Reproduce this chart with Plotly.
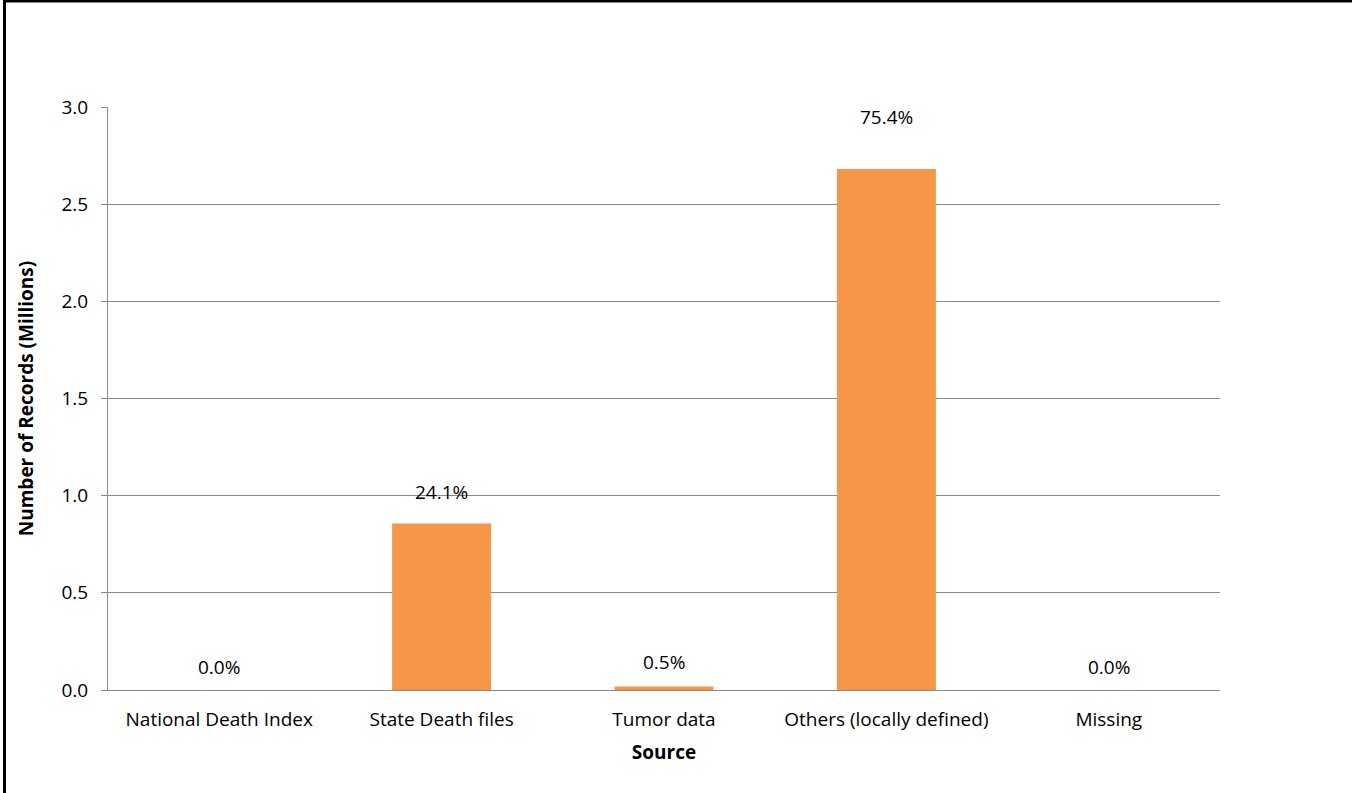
import plotly.graph_objects as go

categories = ["National Death Index", "State Death files", "Tumor data",
              "Others (locally defined)", "Missing"]
records_millions = [0.0, 0.857, 0.0178, 2.681, 0.0]
pct_labels = ["0.0%", "24.1%", "0.5%", "75.4%", "0.0%"]
y_ticks = [0.0, 0.5, 1.0, 1.5, 2.0, 2.5, 3.0]

label_shift = [23, 31, 25, 52, 23]  # pixel offsets of labels above bars

FONT = "Open Sans"
FS = 19
BAR = "#F79646"
GRID = "#898989"

fig = go.Figure()
fig.add_trace(go.Bar(x=categories, y=records_millions, marker_color=BAR,
                     marker_line_width=0, hoverinfo="skip"))

for c, v, t, s in zip(categories, records_millions, pct_labels, label_shift):
    fig.add_annotation(x=c, y=v, text=t, showarrow=False, yanchor="middle",
                       yshift=s, font=dict(family=FONT, size=FS, color="#000000"))

W, H = 1352, 793
L, R, T, B = 108, 132, 107, 103
pw, ph = W - L - R, H - T - B
def px(x):
    return (x - L) / pw
def py(y):
    return 1 - (y - T) / ph

fig.add_shape(type="line", xref="paper", yref="paper", x0=px(4.5), x1=px(4.5),
              y0=py(0), y1=py(H + 5), line=dict(color="black", width=3))
fig.add_shape(type="line", xref="paper", yref="paper", x0=px(3), x1=px(W + 5),
              y0=py(1), y1=py(1), line=dict(color="black", width=3))

fig.update_layout(
    width=W, height=H,
    margin=dict(l=L, r=R, t=T, b=B),
    paper_bgcolor="white", plot_bgcolor="white",
    showlegend=False, bargap=0.555,
    font=dict(family=FONT, size=FS, color="#000000"),
    xaxis=dict(showline=True, linecolor=GRID, linewidth=1, ticks="",
               ticklabelstandoff=12,
               title=dict(text="<b>Source</b>", standoff=14,
                          font=dict(family=FONT, size=FS)),
               tickfont=dict(family=FONT, size=FS)),
    yaxis=dict(range=[0, 3.0], tickvals=y_ticks,
               ticktext=[f"{v:.1f}" for v in y_ticks],
               showgrid=True, gridcolor=GRID, gridwidth=1,
               showline=True, linecolor=GRID, linewidth=1,
               ticks="outside", ticklen=6, tickcolor=GRID,
               ticklabelstandoff=9,
               zeroline=False,
               title=dict(text="<b>Number of Records (Millions)</b>", standoff=22,
                          font=dict(family=FONT, size=FS)),
               tickfont=dict(family=FONT, size=FS)),
)

fig.write_html("out.html", config={"displayModeBar": False},
               post_script="document.body.style.margin='0';"
                           "document.body.style.overflow='hidden';")
